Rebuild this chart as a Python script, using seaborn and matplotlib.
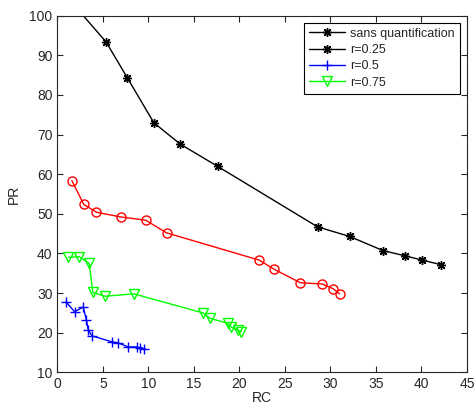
import numpy as np
import pandas as pd
import matplotlib
matplotlib.use("Agg")
import matplotlib.pyplot as plt
from matplotlib.lines import Line2D
import seaborn as sns

# courbes precision / rappel
rc_sans = [1.8, 5.35, 7.7, 10.6, 13.5, 17.6, 28.6, 32.1, 35.8, 38.2, 40.1, 42.1]
pr_sans = [102.8, 93.4, 84.3, 73.0, 67.6, 62.0, 46.7, 44.3, 40.7, 39.4, 38.3, 37.2]

rc_025 = [1.6, 2.9, 4.3, 7.0, 9.7, 12.0, 22.2, 23.75, 26.7, 29.1, 30.3, 31.0]
pr_025 = [58.4, 52.4, 50.4, 49.2, 48.4, 45.2, 38.3, 36.1, 32.6, 32.3, 31.1, 29.8]

rc_05 = [0.95, 1.9, 2.85, 3.2, 3.4, 3.8, 6.0, 6.7, 7.8, 8.7, 9.1, 9.55]
pr_05 = [27.8, 25.3, 26.5, 23.1, 20.7, 19.2, 17.7, 17.4, 16.4, 16.4, 16.1, 15.9]

rc_075 = [1.2, 2.4, 3.5, 3.9, 5.2, 8.4, 16.0, 16.8, 18.7, 19.1, 19.8, 20.2]
pr_075 = [39.0, 39.2, 37.5, 30.2, 29.2, 29.8, 25.0, 23.6, 22.4, 21.4, 20.7, 20.3]

labels = ["sans quantification", "r=0.25", "r=0.5", "r=0.75"]

sns.set_style("ticks")
plt.rcParams["font.family"] = ["Liberation Sans", "DejaVu Sans"]
plt.rcParams["font.size"] = 10

fig = plt.figure(figsize=(4.76, 4.05), dpi=100)
ax = fig.add_axes([0.1204, 0.0807, 0.8606, 0.8805])

star = (8, 2, 0)
series = [
    (rc_sans, pr_sans, "black", star, 6.5),
    (rc_025, pr_025, "red", "o", 6.5),
    (rc_05, pr_05, "blue", "+", 7),
    (rc_075, pr_075, "#00ff00", "v", 7),
]
for x, y, c, m, ms in series:
    sns.lineplot(x=x, y=y, sort=False, estimator=None, ax=ax, color=c,
                 marker=m, markersize=ms, markeredgecolor=c,
                 markerfacecolor="none", markeredgewidth=1, lw=1)

ax.set_xlim(0, 45)
ax.set_ylim(10, 100)
ax.set_xticks(np.arange(0, 46, 5))
ax.set_yticks(np.arange(10, 101, 10))
ax.tick_params(direction="in", length=4, top=True, right=True, width=0.8)
for s in ax.spines.values():
    s.set_visible(True)
    s.set_linewidth(0.8)
ax.set_xlabel("RC", labelpad=0)
ax.set_ylabel("PR", labelpad=6)

# legende comme dans matlab (r=0.25 affiche en noir)
handles = [
    Line2D([], [], color="black", marker=star, markersize=6.5, lw=1),
    Line2D([], [], color="black", marker=star, markersize=6.5, lw=1),
    Line2D([], [], color="blue", marker="+", markersize=7, lw=1),
    Line2D([], [], color="#00ff00", marker="v", markersize=7, mfc="none", lw=1),
]
leg = ax.legend(handles, labels, loc="upper right", fancybox=False,
                framealpha=1, edgecolor="black", handlelength=2.9,
                labelspacing=0.35, borderaxespad=0.55, borderpad=0.4,
                handletextpad=0.4, fontsize=9)
leg.get_frame().set_linewidth(0.8)

fig.savefig("out.png", dpi=100)
